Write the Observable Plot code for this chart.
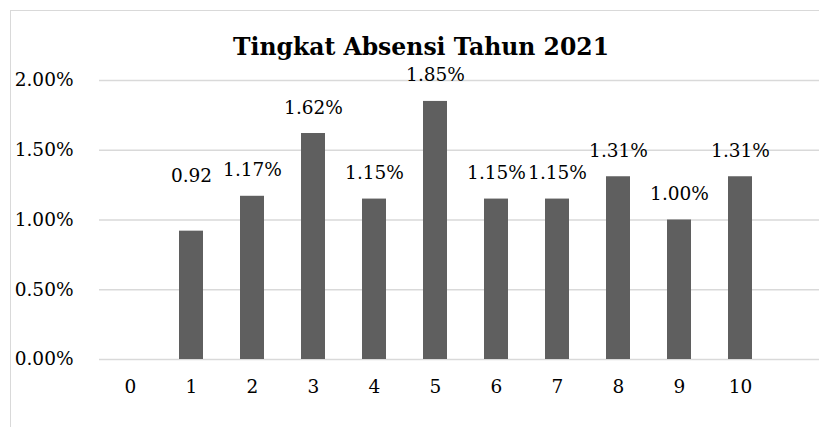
<!DOCTYPE html>
<html>
<head>
<meta charset="utf-8">
<script src="https://cdn.jsdelivr.net/npm/d3@7"></script>
<script src="https://cdn.jsdelivr.net/npm/@observablehq/plot@0.6"></script>
<style>
  html, body { margin: 0; padding: 0; background: #fff; }
  #wrap { position: relative; width: 819px; height: 427px; overflow: hidden; }
  #frame { position: absolute; left: 10px; top: 10px; width: 900px; height: 500px;
           border-top: 1px solid #d9d9d9; border-left: 1px solid #d9d9d9; }
  #title { position: absolute; left: 0; top: 36px; width: 842px; text-align: center;
           font-family: "DejaVu Serif", serif; font-weight: bold; font-size: 23.5px; line-height: 1; color: #000; }
  #chart { position: absolute; left: 0; top: 60px; }
  #chart svg text { font-family: "DejaVu Serif", serif; }
</style>
</head>
<body>
<div id="wrap">
  <div id="frame"></div>
  <div id="title">Tingkat Absensi Tahun 2021</div>
  <div id="chart"></div>
</div>
<script>
const categories = ["0", "1", "2", "3", "4", "5", "6", "7", "8", "9", "10"];
const values = [0, 0.0092, 0.0117, 0.0162, 0.0115, 0.0185, 0.0115, 0.0115, 0.0131, 0.0100, 0.0131];
const labels = ["", "0.92", "1.17%", "1.62%", "1.15%", "1.85%", "1.15%", "1.15%", "1.31%", "1.00%", "1.31%"];
const labelPos = [0, 0.0113, 0.0117, 0.0162, 0.0115, 0.0185, 0.0115, 0.0115, 0.0131, 0.0100, 0.0131];
const yTicks = [0, 0.005, 0.01, 0.015, 0.02];

const data = categories.map((c, i) => ({cat: c, value: values[i], label: labels[i], pos: labelPos[i]}));
const font = '"DejaVu Serif", serif';

const chart = Plot.plot({
  width: 819,
  height: 367,
  marginLeft: 99,
  marginRight: 0,
  marginTop: 20,
  marginBottom: 68,
  style: {fontFamily: font, fontSize: "18.5px", color: "#000", background: "transparent", overflow: "visible"},
  x: {type: "band", domain: categories, range: [99.5, 770.5], paddingInner: 0.6, paddingOuter: 0.3},
  y: {domain: [0, 0.02]},
  marks: [
    Plot.ruleY(yTicks, {stroke: "#d9d9d9", strokeWidth: 1.5}),
    Plot.barY(data, {x: "cat", y: "value", fill: "#5f5f5f"}),
    Plot.text(data.filter(d => d.label !== ""), {x: "cat", y: "pos", text: "label", lineAnchor: "bottom", dy: -20, fill: "#000", fontSize: 18.5, fontFamily: font}),
    Plot.axisY(yTicks, {tickSize: 0, tickPadding: 26, tickFormat: d => (d * 100).toFixed(2) + "%", fontSize: 18.5, fontFamily: font, label: null}),
    Plot.axisX({tickSize: 0, tickPadding: 20, fontSize: 18.5, fontFamily: font, label: null})
  ]
});
document.getElementById("chart").appendChild(chart);
</script>
</body>
</html>
